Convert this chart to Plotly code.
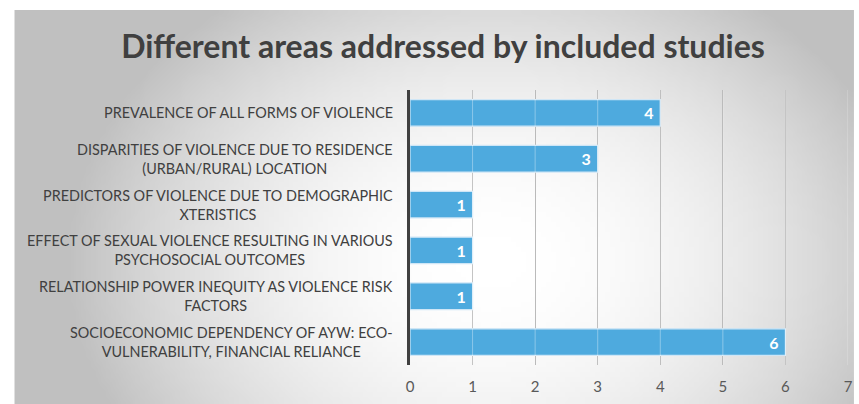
import base64, struct, zlib
import plotly.graph_objects as go

categories = [
    "PREVALENCE OF ALL FORMS OF VIOLENCE",
    "DISPARITIES OF VIOLENCE DUE TO RESIDENCE<br>(URBAN/RURAL) LOCATION",
    "PREDICTORS OF VIOLENCE DUE TO DEMOGRAPHIC<br>XTERISTICS",
    "EFFECT OF SEXUAL VIOLENCE RESULTING IN VARIOUS<br>PSYCHOSOCIAL OUTCOMES",
    "RELATIONSHIP POWER INEQUITY AS VIOLENCE RISK<br>FACTORS",
    "SOCIOECONOMIC DEPENDENCY OF AYW: ECO-<br>VULNERABILITY, FINANCIAL RELIANCE",
]
values = [4, 3, 1, 1, 1, 6]
x_ticks = [0, 1, 2, 3, 4, 5, 6, 7]
title_text = "Different areas addressed by included studies"

# ---- radial gradient background as PNG data URI ----
W, H = 170, 79          # small image, stretched over 849x394 px
cx, cy = 96.0, 50.0     # centre (in image pixels)
rx, ry = 86.0, 66.0
rows = []
for j in range(H):
    row = bytearray([0])
    for i in range(W):
        d = ((i - cx) / rx) ** 2 + ((j - cy) / ry) ** 2
        d = min(1.0, d)
        v = int(round(255 - (255 - 192) * d))
        row += bytes([v, v, v])
    rows.append(bytes(row))
raw = b"".join(rows)

def chunk(tag, data):
    c = struct.pack(">I", len(data)) + tag + data
    return c + struct.pack(">I", zlib.crc32(tag + data) & 0xFFFFFFFF)

png = b"\x89PNG\r\n\x1a\n" + chunk(b"IHDR", struct.pack(">IIBBBBB", W, H, 8, 2, 0, 0, 0)) \
    + chunk(b"IDAT", zlib.compress(raw, 9)) + chunk(b"IEND", b"")
bg_uri = "data:image/png;base64," + base64.b64encode(png).decode()

ML, MR, MT, MB = 410, 6, 90, 39
PW = 859 - ML - MR
PH = 404 - MT - MB

fig = go.Figure()
fig.add_trace(go.Bar(
    y=categories, x=values, orientation="h", width=0.58,
    marker=dict(color="#4EAADE", line=dict(color="#cfe6f6", width=1.2)),
    texttemplate="%{x}\u00a0", textposition="inside", insidetextanchor="end",
    textfont=dict(family="Lato", size=16, color="white", weight="bold"),
    cliponaxis=False,
))

# labels (centered multi-line, right anchored)
for c in categories:
    fig.add_annotation(x=0, y=c, xref="x", yref="y", text=c, showarrow=False,
                       xanchor="right", yanchor="middle", align="center", xshift=-15,
                       font=dict(family="Lato", size=14.4, color="#404040"))

# light gridlines over bars
for t in x_ticks[1:]:
    fig.add_shape(type="line", x0=t, x1=t, y0=0, y1=1, xref="x", yref="paper",
                  line=dict(color="rgba(255,255,255,0.35)", width=1), layer="above")

fig.add_layout_image(dict(source=bg_uri, xref="paper", yref="paper",
                          x=(10 - ML) / PW, y=1 + (MT - 10) / PH,
                          sizex=849 / PW, sizey=394 / PH,
                          xanchor="left", yanchor="top", sizing="stretch", layer="below"))

fig.update_layout(
    width=859, height=404,
    margin=dict(l=ML, r=MR, t=MT, b=MB),
    paper_bgcolor="white", plot_bgcolor="rgba(0,0,0,0)",
    showlegend=False,
    title=dict(text=title_text, x=443 / 859, xref="container",
               xanchor="center", y=0.885, yanchor="middle",
               font=dict(family="Lato", size=32, color="#404040", weight="bold")),
    xaxis=dict(range=[0, 7], tickvals=x_ticks, showgrid=True, gridcolor="#a8a8a8",
               gridwidth=1, zeroline=False, showline=False,
               tickfont=dict(family="Lato", size=15, color="#595959"),
               ticklabelstandoff=11),
    yaxis=dict(autorange="reversed", showticklabels=False, showgrid=False,
               showline=True, linecolor="#404040", linewidth=3),
)

fig.write_html("out.html")
